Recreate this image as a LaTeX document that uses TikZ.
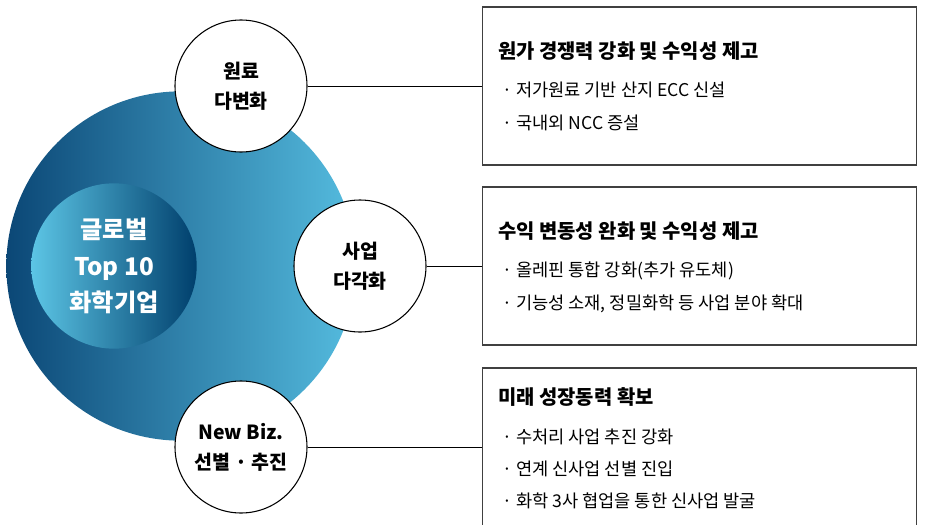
\documentclass[tikz,border=0pt]{standalone}
\usepackage{fontspec}
\setmainfont{Noto Sans CJK KR}
\usetikzlibrary{positioning}
\definecolor{navyblue}{HTML}{0B4776}
\definecolor{midblue}{HTML}{1A7BA7}
\definecolor{skyblue}{HTML}{55BCDF}
\definecolor{coreleft}{HTML}{5CC5E5}
\definecolor{coremid}{HTML}{1E7FAC}
\definecolor{coreright}{HTML}{003F6C}
\definecolor{boxline}{HTML}{404040}
\tikzset{
    bigdisc/.style = {circle, inner sep=0pt, minimum size=262pt, left color=navyblue, middle color=midblue, right color=skyblue},
    coredisc/.style = {circle, inner sep=0pt, minimum size=124pt, left color=coreleft, middle color=coremid, right color=coreright, align=center, text=white, font=\bfseries\fontsize{18.2}{27.5}\selectfont},
    topicnode/.style = {circle, draw=black, line width=0.8pt, fill=white, inner sep=0pt, minimum size=99pt, align=center, font=\bfseries\fontsize{14.6}{22.5}\selectfont},
    infobox/.style = {rectangle, draw=boxline, line width=0.8pt, minimum width=326pt, minimum height=118.5pt},
    boxtitle/.style = {anchor=west, inner sep=0pt, font=\bfseries\fontsize{14.9}{16}\selectfont},
    boxitem/.style = {anchor=west, inner sep=0pt, font=\fontsize{13.2}{14}\selectfont},
    edgen/.style = {-, line width=0.7pt, black}
}
\begin{document}
\begin{tikzpicture}[x=0.75pt, y=-0.75pt]
  \useasboundingbox (0,0) rectangle (925,525);
  \clip (0,0) rectangle (925,525);
  % central disc
  \node[bigdisc] (globe) at (181,266) {};
  \node[coredisc] (core) at (114,266) {글로벌\\Top 10\\화학기업};
  % three directions
  \node[topicnode] (raw) at (241,86) {원료\\다변화};
  \node[topicnode] (biz) at (360,266) {사업\\다각화};
  \node[topicnode] (newbiz) at (241,447) {New Biz.\\선별 · 추진};
  % boxes
  \node[infobox] (boxa) at (699.5,86) {};
  \node[infobox] (boxb) at (699.5,266) {};
  \node[infobox] (boxc) at (699.5,447) {};
  \draw[edgen] (raw) -- (boxa);
  \draw[edgen] (biz) -- (boxb);
  \draw[edgen] (newbiz) -- (boxc);
  % box texts
  \node[boxtitle] (ta) at (498,51) {원가 경쟁력 강화 및 수익성 제고};
  \node[boxitem] (ta1) at (502,90) {· 저가원료 기반 산지 ECC 신설};
  \node[boxitem] (ta2) at (502,123) {· 국내외 NCC 증설};
  \node[boxtitle] (tb) at (498,231) {수익 변동성 완화 및 수익성 제고};
  \node[boxitem] (tb1) at (502,271) {· 올레핀 통합 강화(추가 유도체)};
  \node[boxitem] (tb2) at (502,304) {· 기능성 소재, 정밀화학 등 사업 분야 확대};
  \node[boxtitle] (tc) at (498,397) {미래 성장동력 확보};
  \node[boxitem] (tc1) at (502,437) {· 수처리 사업 추진 강화};
  \node[boxitem] (tc2) at (502,469) {· 연계 신사업 선별 진입};
  \node[boxitem] (tc3) at (502,501) {· 화학 3사 협업을 통한 신사업 발굴};
\end{tikzpicture}
\end{document}
